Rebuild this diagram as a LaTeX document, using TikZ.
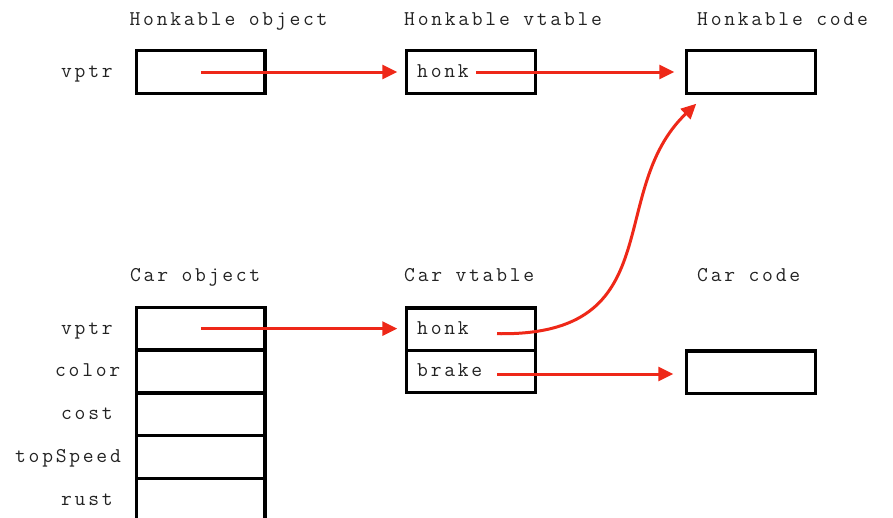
\documentclass[tikz,border=0pt]{standalone}
\usepackage{fontspec}
\setmonofont[LetterSpace=13]{Latin Modern Mono}
\usetikzlibrary{arrows.meta}
\definecolor{ptrred}{RGB}{238,40,24}
\definecolor{textgray}{RGB}{35,35,35}
\tikzset{
  cell/.style={draw=black, line width=3.3pt, minimum width=128.5pt,
    minimum height=42.5pt, inner sep=0pt, outer sep=0pt},
  lbl/.style={font=\ttfamily\fontsize{21}{24}\selectfont, text=textgray,
    inner sep=0pt, anchor=base west},
  ptr/.style={draw=ptrred, line width=3pt,
    -{Triangle[length=15pt,width=14pt]}},
}
\begin{document}
\begin{tikzpicture}[x=1pt,y=-1pt]
  \useasboundingbox (0,0) rectangle (893,517);
  \clip (0,0) rectangle (893,517);

  % headings
  \node[lbl] (hobjT)  at (129.5,25.5) {Honkable object};
  \node[lbl] (hvtT)   at (404,25.5)   {Honkable vtable};
  \node[lbl] (hcodeT) at (697,25.5)   {Honkable code};
  \node[lbl] (cobjT)  at (130,281.5)  {Car object};
  \node[lbl] (cvtT)   at (404,281.5)  {Car vtable};
  \node[lbl] (ccodeT) at (697,281.5)  {Car code};

  % Honkable row
  \node[cell] (hobj)  at (200.8,72) {};
  \node[cell] (hvt)   at (471,72)   {};
  \node[cell] (hcode) at (751,72)   {};
  \node[lbl] (hvptr)  at (61,77.5)  {vptr};
  \node[lbl] (hhonk)  at (417,77.5) {honk};

  % Car object fields
  \node[cell] (cobj1) at (200.8,328.6) {};
  \node[cell] (cobj2) at (200.8,371.4) {};
  \node[cell] (cobj3) at (200.8,414.1) {};
  \node[cell] (cobj4) at (200.8,456.9) {};
  \node[cell] (cobj5) at (200.8,499.6) {};
  \node[lbl] (fvptr)  at (61,334)   {vptr};
  \node[lbl] (fcolor) at (55,376.5) {color};
  \node[lbl] (fcost)  at (61,419)   {cost};
  \node[lbl] (fspeed) at (15,462)   {topSpeed};
  \node[lbl] (frust)  at (61,505)   {rust};

  % Car vtable and code
  \node[cell] (cvt1)  at (471,329.2) {};
  \node[cell] (cvt2)  at (471,371.5) {};
  \node[cell] (ccode) at (751,372.3) {};
  \node[lbl] (chonk)  at (417,334)   {honk};
  \node[lbl] (cbrake) at (417,376.5) {brake};

  % pointer tails
  \coordinate (honkTail)  at ([shift={(26,4.5)}]cvt1.center);
  \coordinate (brakeTail) at ([shift={(26,2.5)}]cvt2.center);

  % pointers
  \draw[ptr] (hobj.center) -- ([xshift=-9.5pt]hvt.west);
  \draw[ptr] ([xshift=5pt]hvt.center) -- ([xshift=-12.5pt]hcode.west);
  \draw[ptr] (cobj1.center) -- ([xshift=-9.5pt]cvt1.west |- cobj1.center);
  \draw[ptr] (honkTail)
     .. controls +(175,3) and +(-92,88) ..
     ([shift={(9.5,10.5)}]hcode.south west);
  \draw[ptr] (brakeTail) -- ([xshift=-13.5pt]ccode.west |- brakeTail);
\end{tikzpicture}
\end{document}
